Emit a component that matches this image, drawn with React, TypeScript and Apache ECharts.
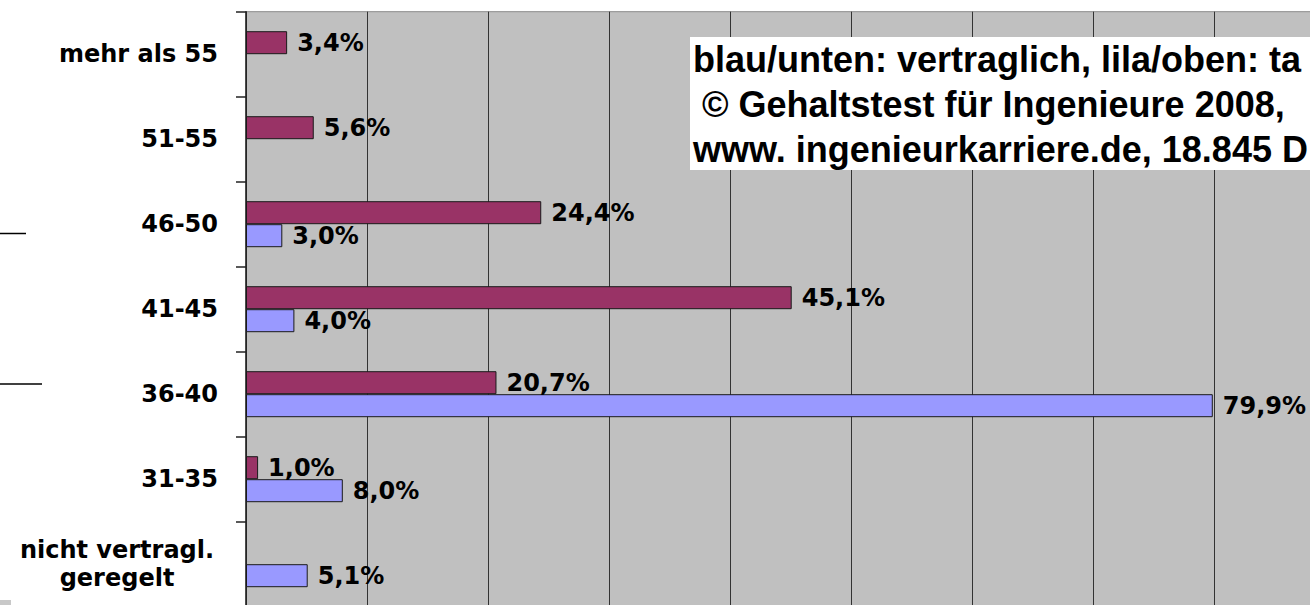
import React, { useEffect, useRef } from 'react';
import * as echarts from 'echarts';

// Age groups (top to bottom)
const categories = ['mehr als 55', '51-55', '46-50', '41-45', '36-40', '31-35', 'nicht vertragl.\ngeregelt'];
// lila/oben: tariflich (%)
const tariflich = [3.4, 5.6, 24.4, 45.1, 20.7, 1.0, null];
// blau/unten: vertraglich (%)
const vertraglich = [null, null, 3.0, 4.0, 79.9, 8.0, 5.1];
// value axis range (percent)
const axisMin = 0;
const axisMax = 90;
const axisInterval = 10;
// overlay note (visible part)
const noteLines = [
  'blau/unten: vertraglich, lila/oben: ta',
  '© Gehaltstest für Ingenieure 2008,',
  'www. ingenieurkarriere.de, 18.845 D',
];

const CHART_FONT = '"DejaVu Sans", Verdana, sans-serif';
const NOTE_FONT = '"Liberation Sans", Arial, sans-serif';

const fmt = (v: number) => v.toFixed(1).replace('.', ',') + '%';

export default function App() {
  const ref = useRef<HTMLDivElement>(null);

  useEffect(() => {
    if (!ref.current) return;
    const chart = echarts.init(ref.current, null, { renderer: 'svg' });
    const labelStyle = {
      show: true,
      position: 'right',
      distance: 10,
      color: '#000',
      fontFamily: CHART_FONT,
      fontWeight: 'bold',
      fontSize: 24,
      formatter: (p: any) => (p.value == null ? '' : fmt(Number(p.value))),
    };
    chart.setOption({
      animation: false,
      backgroundColor: '#ffffff',
      grid: {
        left: 246,
        top: 11.7,
        width: 1089,
        height: 595,
        show: true,
        backgroundColor: '#C0C0C0',
        borderColor: '#8a8a8a',
        borderWidth: 1,
        containLabel: false,
        outerBoundsMode: 'none',
      },
      xAxis: {
        type: 'value',
        min: axisMin,
        max: axisMax,
        interval: axisInterval,
        axisLine: { show: false },
        axisTick: { show: false },
        axisLabel: { show: false },
        splitLine: { show: true, lineStyle: { color: '#333', width: 1 } },
      },
      yAxis: {
        type: 'category',
        inverse: true,
        data: categories,
        axisLine: { show: true, lineStyle: { color: '#222', width: 1.5 } },
        axisTick: { show: true, length: 10, lineStyle: { color: '#222', width: 1.5 } },
        splitLine: { show: false },
        axisLabel: {
          margin: 28,
          color: '#000',
          fontFamily: CHART_FONT,
          fontWeight: 'bold',
          fontSize: 24,
          lineHeight: 28,
          formatter: (v: string) => {
            if (v.indexOf('\n') >= 0) {
              return v
                .split('\n')
                .map((s) => '{c|' + s + '}')
                .join('\n');
            }
            return v;
          },
          rich: {
            c: {
              width: 202,
              align: 'center',
              color: '#000',
              fontFamily: CHART_FONT,
              fontWeight: 'bold',
              fontSize: 24,
              lineHeight: 28,
            },
          },
        },
      },
      series: [
        {
          name: 'tariflich',
          type: 'bar',
          data: tariflich,
          barWidth: 23,
          barGap: '0%',
          itemStyle: { color: '#993366', borderColor: '#1a1a1a', borderWidth: 1 },
          label: labelStyle,
        },
        {
          name: 'vertraglich',
          type: 'bar',
          data: vertraglich,
          barWidth: 23,
          barGap: '0%',
          itemStyle: { color: '#9999FF', borderColor: '#1a1a1a', borderWidth: 1 },
          label: labelStyle,
        },
      ],
      graphic: {
        elements: [
          {
            type: 'rect',
            z: 100,
            shape: { x: 690, y: 37, width: 700, height: 133 },
            style: { fill: '#ffffff' },
          },
          ...noteLines.map((t, i) => ({
            type: 'text',
            z: 101,
            x: i === 1 ? 702 : 693,
            y: 59.5 + i * 45,
            style: {
              text: t,
              fill: '#000',
              fontFamily: NOTE_FONT,
              fontWeight: 'bold',
              fontSize: 36,
              verticalAlign: 'middle',
              align: 'left',
            },
          })),
          {
            type: 'line',
            z: 100,
            shape: { x1: 0, y1: 233.5, x2: 26, y2: 233.5 },
            style: { stroke: '#000', lineWidth: 1.5 },
          },
          {
            type: 'line',
            z: 100,
            shape: { x1: 0, y1: 384, x2: 42, y2: 384 },
            style: { stroke: '#000', lineWidth: 1.5 },
          },
          {
            type: 'rect',
            z: 100,
            shape: { x: 0, y: 600, width: 11, height: 5 },
            style: { fill: '#c8c8c8' },
          },
        ],
      },
    });
    return () => chart.dispose();
  }, []);

  return (
    <div
      ref={ref}
      style={{ position: 'fixed', left: 0, top: 0, width: 1310, height: 605, overflow: 'hidden' }}
    />
  );
}
